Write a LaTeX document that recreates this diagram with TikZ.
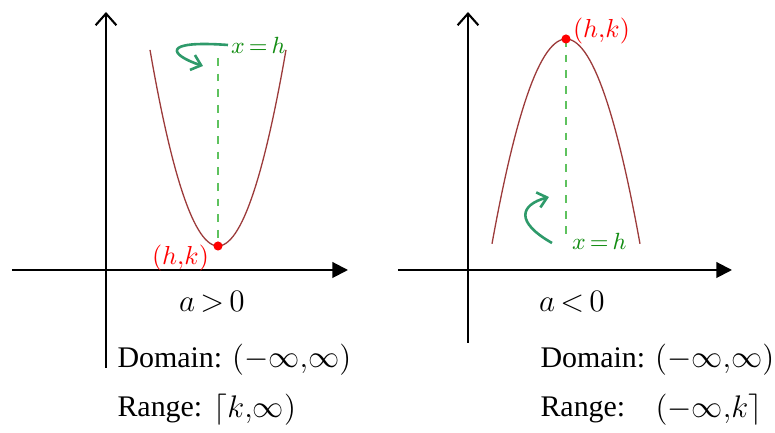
\documentclass[tikz,border=0pt]{standalone}
\usepackage{fontspec}
\setmainfont{Liberation Serif}
\definecolor{pbcurve}{HTML}{9C3B3B}
\definecolor{pbgreen}{HTML}{128C12}
\definecolor{pbdash}{HTML}{5EC25E}
\definecolor{pbcurl}{HTML}{2E9A6A}
\usetikzlibrary{arrows.meta,positioning}

\begin{document}
\begin{tikzpicture}[x=0.0135cm,y=-0.0135cm,
  axis/.style={line width=0.8pt,-{Straight Barb[length=4.5pt,width=8pt,line width=0.8pt]}},
  haxis/.style={line width=0.8pt,-{Triangle[length=6pt,width=6pt]}},
  curve/.style={pbcurve,line width=0.5pt},
  sym/.style={pbdash,dashed,line width=0.5pt},
  dot/.style={circle,fill=red,inner sep=0pt,minimum size=3.5pt},
  vlbl/.style={red,font=\fontsize{10}{12}\selectfont,inner sep=1pt},
  glbl/.style={pbgreen,font=\fontsize{9.5}{12}\selectfont,inner sep=1pt},
  curl/.style={pbcurl,line width=1pt,-{Straight Barb[length=3.5pt,width=6pt]}},
  txt/.style={font=\fontsize{11.5}{14}\selectfont,inner sep=0pt}]
  \useasboundingbox (0,0) rectangle (775,433);
  % left graph, a > 0
  \coordinate (ol) at (106,270);
  \draw[axis] (106,368) -- (106,12);
  \draw[haxis] (12,270) -- (348,270);
  \draw[sym] (218,58) -- (218,246);
  \draw[curve] plot[domain=150:286,samples=60] (\x,{246-0.0424*(\x-218)^2});
  \node[dot] (vl) at (218,246) {};
  \node[vlbl,anchor=east] (hkl) at (212,258) {$(h{,}k)$};
  \node[glbl,anchor=west] (eql) at (228,45) {$x\,{=}\,h$};
  \coordinate (tipl) at (203,66);
  \draw[curl] (eql.west) .. controls (160,40) and (170,55) .. (tipl);
  \node[txt] (al) at (212,302) {$a\,{>}\,0$};
  \node[txt,anchor=west] (doml) at (117,360) {Domain: $\bigl(-\infty{,}\infty\bigr)$};
  \node[txt,anchor=west] (rngl) at (117,410) {Range:};
  \node[txt,anchor=west] (rngli) at (213,410) {$\bigl\lceil k{,}\infty\bigr)$};
  % right graph, a < 0
  \coordinate (or) at (468,270);
  \draw[axis] (468,343) -- (468,12);
  \draw[haxis] (398,270) -- (732,270);
  \draw[sym] (566,39) -- (566,238);
  \draw[curve] plot[domain=492:640,samples=60] (\x,{39+0.0374*(\x-566)^2});
  \node[dot] (vr) at (566,39) {};
  \node[vlbl,anchor=west] (hkr) at (570,31) {$(h{,}k)$};
  \node[glbl,anchor=west] (eqr) at (569,241) {$x\,{=}\,h$};
  \coordinate (tipr) at (549,197);
  \draw[curl] (552,243) .. controls (515,222) and (520,205) .. (tipr);
  \node[txt] (ar) at (572,302) {$a\,{<}\,0$};
  \node[txt,anchor=west] (domr) at (540,360) {Domain: $\bigl(-\infty{,}\infty\bigr)$};
  \node[txt,anchor=west] (rngr) at (540,410) {Range:};
  \node[txt,anchor=west] (rngri) at (655,410) {$\bigl(-\infty{,}k\bigr\rceil$};
\end{tikzpicture}
\end{document}
